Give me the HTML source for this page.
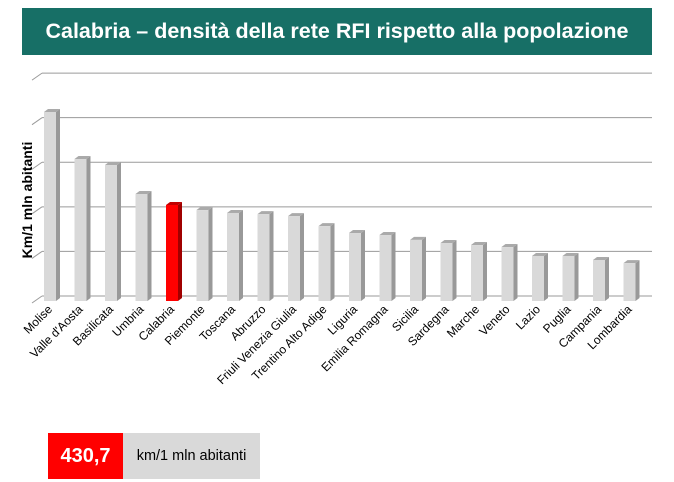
<!DOCTYPE html>
<html><head><meta charset="utf-8"><style>
body{margin:0;width:674px;height:482px;background:#fff;overflow:hidden;font-family:"Liberation Sans",sans-serif}
#title{position:absolute;left:22px;top:8px;width:630px;height:47px;background:#176f66;color:#fff;font-weight:bold;font-size:21.5px;line-height:47px;text-align:center}
#val{position:absolute;left:48px;top:433px;width:75px;height:46px;background:#ff0000;color:#fff;font-weight:bold;font-size:20px;line-height:46px;text-align:center}
#unit{position:absolute;left:123px;top:433px;width:137px;height:46px;background:#d9d9d9;color:#000;font-size:14.5px;line-height:46px;text-align:center}
</style></head><body>
<div id="title">Calabria – densità della rete RFI rispetto alla popolazione</div>
<svg id="chart" width="674" height="430" style="position:absolute;left:0;top:0"></svg>
<div id="val">430,7</div>
<div id="unit">km/1 mln abitanti</div>
<script>
const categories=["Molise","Valle d'Aosta","Basilicata","Umbria","Calabria","Piemonte","Toscana","Abruzzo","Friuli Venezia Giulia","Trentino Alto Adige","Liguria","Emilia Romagna","Sicilia","Sardegna","Marche","Veneto","Lazio","Puglia","Campania","Lombardia"];
const values=[848,637,610,480,430.7,408,395,390,381,336,305,296,274,260,251,242,202,202,184,170];
const gridTicks=[0,200,400,600,800,1000];
const highlight="Calabria";
const NS="http://www.w3.org/2000/svg";
const svg=document.getElementById('chart');
const y0=301, k=96/430.7;
function yScale(v){return y0-v*k;}
function xScale(i){return 44+i*30.5;}
function mk(t,a){const e=document.createElementNS(NS,t);for(const n in a)e.setAttribute(n,a[n]);svg.appendChild(e);return e;}
gridTicks.forEach((t,i)=>{
  const y=yScale(t)-5;
  const l=mk('line',{x1:42,x2:652,y1:y,y2:y,stroke:'#9a9a9a','stroke-width':1});
  
  
  const d=mk('line',{x1:32,x2:42,y1:y+7,y2:y,stroke:'#9a9a9a','stroke-width':1});
  
  
});
const yt=mk('text',{x:0,y:0,transform:'translate(32,200) rotate(-90)','text-anchor':'middle','font-size':'14','font-weight':'bold','font-family':'Liberation Sans, sans-serif'});
yt.textContent='Km/1 mln abitanti';


categories.forEach((c,i)=>{
  const x=xScale(i), yt2=yScale(values[i]), w=12, d=4;
  const red=c===highlight;
  const g=document.createElementNS(NS,'g');svg.appendChild(g);
  
  
  const side=document.createElementNS(NS,'polygon');
  side.setAttribute('points',`${x+w},${yt2} ${x+w+d},${yt2-3} ${x+w+d},${y0-3} ${x+w},${y0}`);
  side.setAttribute('fill',red?'#a00000':'#999');g.appendChild(side);
  const top=document.createElementNS(NS,'polygon');
  top.setAttribute('points',`${x},${yt2} ${x+d},${yt2-3} ${x+w+d},${yt2-3} ${x+w},${yt2}`);
  top.setAttribute('fill',red?'#c00000':'#aaa');g.appendChild(top);
  const r=document.createElementNS(NS,'rect');
  r.setAttribute('x',x);r.setAttribute('y',yt2);r.setAttribute('width',w);r.setAttribute('height',y0-yt2);
  r.setAttribute('fill',red?'#ff0000':'#d9d9d9');g.appendChild(r);
  const t=mk('text',{x:0,y:0,transform:`translate(${x+9},${y0+9}) rotate(-45)`,'text-anchor':'end','font-size':'12','font-family':'Liberation Sans, sans-serif'});
  t.textContent=c;
  
  
});
</script>
</body></html>
